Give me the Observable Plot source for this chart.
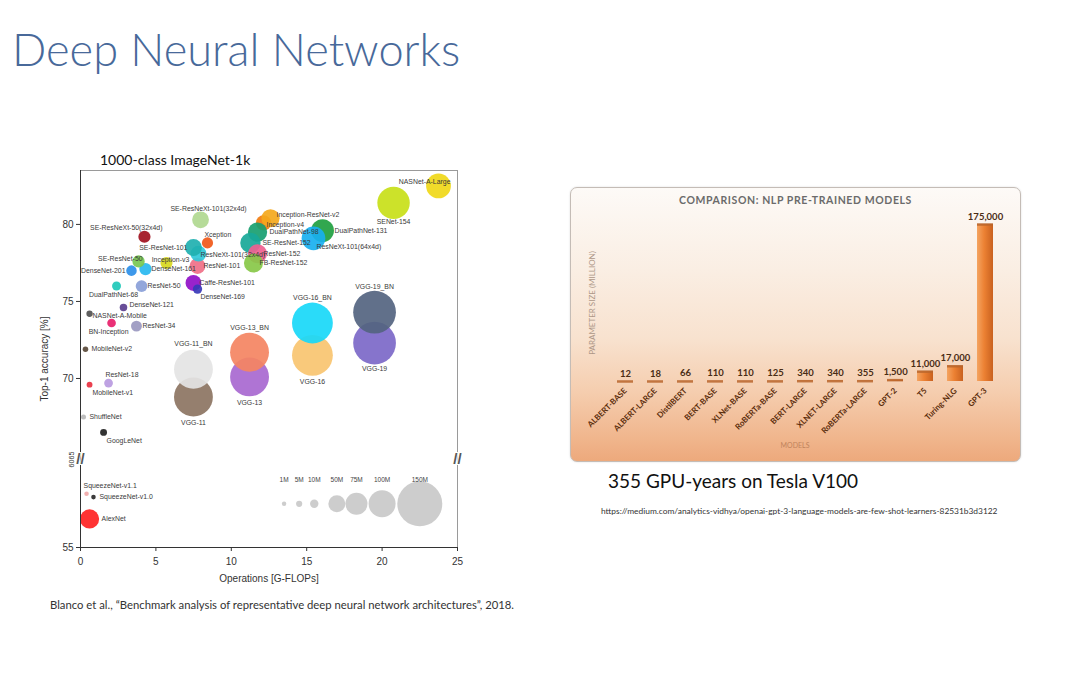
<!DOCTYPE html>
<html><head><meta charset="utf-8">
<script src="https://cdn.jsdelivr.net/npm/d3@7"></script>
<script src="https://cdn.jsdelivr.net/npm/@observablehq/plot@0.6"></script>
<style>
body{margin:0;width:1080px;height:675px;background:#fff;position:relative;overflow:hidden;font-family:Lato,"Open Sans",sans-serif;}
.abs{position:absolute;white-space:nowrap;}
#panel{left:570px;top:187px;width:451px;height:275px;box-sizing:border-box;border:1px solid #c4bcb6;border-radius:7px;
background:linear-gradient(to bottom,#fdfaf7 0%,#faeee3 30%,#f8e2cf 55%,#f5cdae 75%,#f0b58c 92%,#eda97c 100%);box-shadow:0 0 2px rgba(0,0,0,0.15);}
</style></head><body>
<div class="abs" style="left:12px;top:21px;font-size:45.2px;color:#48699a;font-weight:300;">Deep Neural Networks</div>
<div class="abs" style="left:100px;top:151px;font-size:14px;color:#111;">1000-class ImageNet-1k</div>
<div id="left" class="abs" style="left:30px;top:165px;"></div>
<div class="abs" style="left:50px;top:598px;font-size:11.3px;color:#333;">Blanco et al., “Benchmark analysis of representative deep neural network architectures”, 2018.</div>
<div id="panel" class="abs"></div>
<div class="abs" style="left:570px;top:194px;width:451px;text-align:center;font-size:10.5px;font-weight:bold;letter-spacing:0.6px;color:#6b6b6b;">COMPARISON: NLP PRE-TRAINED MODELS</div>
<div class="abs" style="left:592px;top:303px;transform:translate(-50%,-50%) rotate(-90deg);font-size:8px;color:#ad9787;">PARAMETER SIZE (MILLION)</div>
<div class="abs" style="left:795px;top:441px;font-size:7px;color:#c0835c;transform:translateX(-50%);">MODELS</div>
<div id="right" class="abs" style="left:570px;top:187px;"></div>
<div class="abs" style="left:608px;top:469px;font-size:19px;color:#111;">355 GPU-years on Tesla V100</div>
<div class="abs" style="left:601px;top:506px;font-size:8.4px;color:#333;">https://medium.com/analytics-vidhya/openai-gpt-3-language-models-are-few-shot-learners-82531b3d3122</div>
<script>
// ---------- Left chart data (Bianco et al. 2018) ----------
const nets = ["AlexNet","SqueezeNet-v1.0","SqueezeNet-v1.1","GoogLeNet","ShuffleNet","MobileNet-v1","ResNet-18","MobileNet-v2","BN-Inception","NASNet-A-Mobile","ResNet-34","DenseNet-121","DualPathNet-68","ResNet-50","DenseNet-201","DenseNet-161","SE-ResNet-50","Inception-v3","SE-ResNeXt-50(32x4d)","Caffe-ResNet-101","DenseNet-169","ResNet-101","ResNeXt-101(32x4d)","SE-ResNet-101","Xception","SE-ResNeXt-101(32x4d)","VGG-11","VGG-11_BN","VGG-13","VGG-13_BN","Inception-v4","Inception-ResNet-v2","DualPathNet-98","SE-ResNet-152","ResNet-152","FB-ResNet-152","VGG-16","VGG-16_BN","DualPathNet-131","ResNeXt-101(64x4d)","VGG-19","VGG-19_BN","SENet-154","NASNet-A-Large"];
const gflops = [0.60,0.86,0.40,1.53,0.20,0.60,1.86,0.33,2.06,0.60,3.71,2.85,2.39,4.05,3.38,4.31,3.85,5.70,4.24,7.49,7.76,7.76,7.82,7.49,8.42,7.96,7.49,7.49,11.21,11.21,12.14,12.60,11.74,11.27,11.74,11.47,15.38,15.38,16.05,15.45,19.50,19.50,20.76,23.74];
const top1 = [56.7,58.0,58.2,66.5,67.5,69.6,69.7,71.9,73.6,74.2,73.4,74.6,76.0,76.0,77.0,77.1,77.6,77.5,79.2,76.2,75.8,77.3,78.1,78.5,78.8,80.3,68.8,70.6,70.1,71.7,80.1,80.4,79.5,78.8,78.1,77.5,71.5,73.6,79.6,79.1,72.3,74.3,81.4,82.5];
const paramsM = [61,1.25,1.24,6.6,2.4,4.2,11.7,3.5,11.3,5.3,21.8,8.0,12.6,25.6,20.0,28.7,28.1,27.2,27.6,44.6,14.2,44.5,44.2,49.3,22.9,49.0,132.9,132.9,133.0,133.0,42.7,55.8,61.6,66.8,60.2,60.3,138.4,138.4,79.3,83.5,143.7,143.7,115.1,88.9];
const netColors = ["#ff2222","#2a2a2a","#f0a8a8","#222222","#b8b8b8","#e83040","#b89ae0","#5a4a3a","#e8206a","#505050","#9a98c0","#5c3f8f","#20c8b8","#8aa0d8","#2d8fe8","#28b8f0","#78c850","#d8d820","#a01020","#9010c8","#3838b8","#f07088","#30c8d8","#20b0b0","#f05818","#b0d890","#8c7462","#e4e4e4","#a868d0","#f48462","#f07c10","#f4a81c","#18a070","#18a898","#f06090","#88c848","#f8c470","#18d8f8","#20a040","#18b0f0","#7c68c8","#546480","#c8e018","#f0d818"];
const labelSide = ["R","r","tr","br","r","br","tr","r","b","rd","r","ru","b","r","l","r","tl","c","TL","r","br","r","rs","l","tr","t","B","T","B","T","rd","ru","R","R","r","r","B","T","R","br","B","T","Bm","Tl"];
const legendSizes = [1,5,10,50,75,100,150];
const legendNames = ["1M","5M","10M","50M","75M","100M","150M"];
const legendX = [13.5,14.5,15.5,17.0,18.3,20.0,22.5];
const xTicks = [0,5,10,15,20,25];
const yTicks = [55,70,75,80];
const yBreakTicks = [60,65];

// ---------- Right chart data ----------
const models = ["ALBERT-BASE","ALBERT-LARGE","DistilBERT","BERT-BASE","XLNet-BASE","RoBERTa-BASE","BERT-LARGE","XLNET-LARGE","RoBERTa-LARGE","GPT-2","T5","Turing-NLG","GPT-3"];
const modelParams = [12,18,66,110,110,125,340,340,355,1500,11000,17000,175000];

// ---------- Left chart ----------
const nd = nets.map((n,i)=>({name:n,x:gflops[i],y:top1[i],p:paramsM[i],c:netColors[i],side:labelSide[i]}));
const sides = {
  r:{textAnchor:"start",dx:6,dy:0}, rs:{textAnchor:"start",dx:2,dy:1}, ru:{textAnchor:"start",dx:6,dy:-3}, rd:{textAnchor:"start",dx:3,dy:2},
  R:{textAnchor:"start",dx:12,dy:0}, l:{textAnchor:"end",dx:-6,dy:0},
  tl:{textAnchor:"end",dx:4,dy:-3}, TL:{textAnchor:"end",dx:18,dy:-9}, tr:{textAnchor:"start",dx:-3,dy:-8},
  br:{textAnchor:"start",dx:3,dy:8}, b:{textAnchor:"middle",dx:-3,dy:9}, t:{textAnchor:"middle",dx:8,dy:-11},
  c:{textAnchor:"middle",dx:4,dy:-3}, T:{textAnchor:"middle",dx:0,dy:-25}, B:{textAnchor:"middle",dx:0,dy:26},
  Bm:{textAnchor:"middle",dx:0,dy:19}, Tl:{textAnchor:"end",dx:12,dy:-4}
};
const labelMarks = Object.entries(sides).map(([k,o])=>Plot.text(nd.filter(d=>d.side===k),{x:"x",y:"y",text:"name",fill:"#3a3a3a",fontSize:6.9,...o}));
const legend = legendSizes.map((s,i)=>({s,name:legendNames[i],x:legendX[i]}));

const left = Plot.plot({
  width:440,height:430,marginLeft:50,marginRight:13,marginTop:5,marginBottom:48,
  style:{fontFamily:"'Liberation Sans',Arial,sans-serif",background:"transparent",color:"#333"},
  x:{domain:[0,25],range:[50,427]},
  y:{type:"linear",domain:[55,60,65,83.5],range:[382,298,290,5]},
  r:{type:"linear",domain:[0,10,50,100,150],range:[2,4.2,8.5,13.5,22.5]},
  color:{type:"identity"},
  marks:[
    Plot.frame({stroke:"#9a9a9a"}),
    Plot.dot(nd,{x:"x",y:"y",r:"p",fill:"c",fillOpacity:0.92,sort:null}),
    Plot.dot(legend,{x:"x",y:57.6,r:"s",fill:"#c8c8c8",fillOpacity:0.9}),
    Plot.text(legend,{x:"x",y:59.05,text:"name",fontSize:6.5,fill:"#444"}),
    ...labelMarks,
    Plot.ruleX([0],{stroke:"#333"}),
    Plot.ruleY([55],{stroke:"#333"}),
    Plot.axisY({ticks:yTicks,tickSize:4,tickPadding:3,fontSize:10,label:"Top-1 accuracy [%]",labelAnchor:"center",labelOffset:40,labelArrow:"none"}),
    Plot.axisY({ticks:yBreakTicks,tickSize:0,tickPadding:7,tickRotate:-90,fontSize:7,label:null}),
    Plot.axisX({ticks:xTicks,tickSize:4,tickPadding:6,fontSize:10,label:"Operations [G-FLOPs]",labelAnchor:"center",labelOffset:34,labelArrow:"none"}),
    Plot.text([0,25],{x:d=>d,y:62.5,text:()=>"//",fontSize:15,fontWeight:"bold",fill:"#555",stroke:"white",strokeWidth:2})
  ]
});
document.getElementById("left").appendChild(left);

// ---------- Right chart ----------
const md = models.map((m,i)=>({m,v:modelParams[i]}));
const fmt = d3.format(",");
const right = Plot.plot({
  width:451,height:275,marginLeft:27,marginRight:9,marginTop:37,marginBottom:81,
  style:{fontFamily:"Lato,'Open Sans',sans-serif",background:"transparent"},
  x:{domain:models,padding:0.48,label:null},
  y:{domain:[0,175000],axis:null},
  marks:[
    Plot.barY(md,{x:"m",y:"v",fill:"url(#og)"}),
    Plot.tickY(md,{x:"m",y:"v",stroke:"#b9652c",strokeWidth:2.5,strokeOpacity:0.85}),
    Plot.text(md,{x:"m",y:"v",text:d=>fmt(d.v),dy:-8,fontSize:9.5,fontWeight:"bold",fill:"#4a2c14"}),
    Plot.axisX({tickSize:0,tickRotate:-45,tickPadding:8,fontSize:8,fontWeight:"bold",fill:"#5b2d0c",label:null})
  ]
});
const defs = document.createElementNS("http://www.w3.org/2000/svg","defs");
defs.innerHTML = '<linearGradient id="og" x1="0" x2="1" y1="0" y2="0"><stop offset="0" stop-color="#f4a461"/><stop offset="0.45" stop-color="#ec8133"/><stop offset="1" stop-color="#c9611f"/></linearGradient>';
right.prepend(defs);
document.getElementById("right").appendChild(right);
</script>
</body></html>
